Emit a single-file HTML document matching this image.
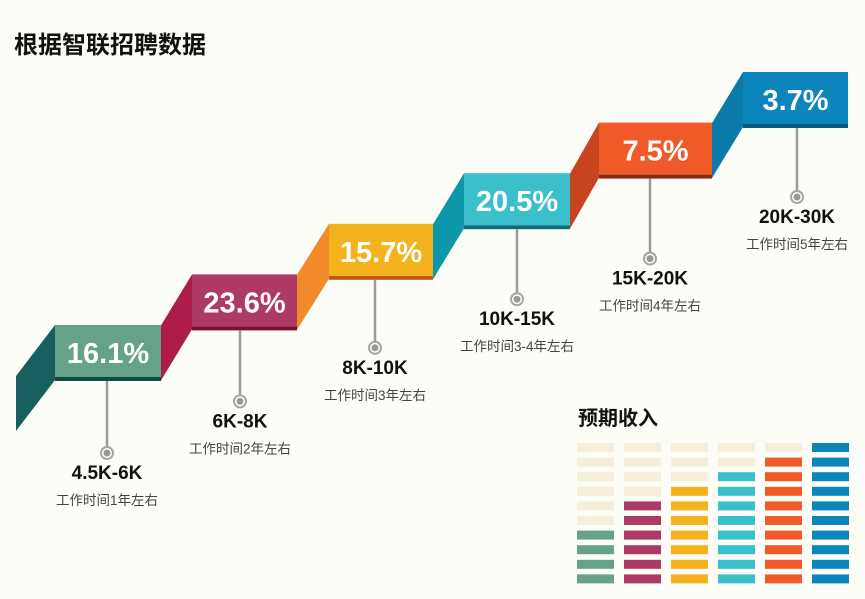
<!DOCTYPE html>
<html><head><meta charset="utf-8"><style>
body{margin:0;background:#fdfdf8;}
svg{display:block;font-family:"Liberation Sans","Noto Sans CJK SC",sans-serif;}
</style></head><body>
<svg id="c" width="865" height="599" viewBox="0 0 865 599">
<text x="14" y="53" font-size="24" font-weight="bold" fill="#111">根据智联招聘数据</text>
<text x="578" y="425" font-size="20" font-weight="bold" fill="#111">预期收入</text>
</svg>
<script>
const categories=["4.5K-6K","6K-8K","8K-10K","10K-15K","15K-20K","20K-30K"];
const shares=[16.1,23.6,15.7,20.5,7.5,3.7];
const years=["1","2","3","3-4","4","5"];
const filledBars=[4,6,7,8,9,10];
const totalBars=10;
const front=["#64a38a","#ad3a64","#f4b31d","#3bbfcb","#f05a28","#0b85bb"];
const side=["#17605f","#ae1c4c","#f18a2b","#0d97a8","#c7441e","#0a7aa8"];
const shade=["#0f4a48","#7a1230","#c4560e","#0a6f7c","#8a2a12","#0a5a80"];
const NS="http://www.w3.org/2000/svg";
const svg=document.getElementById('c');
function mk(t,a){const e=document.createElementNS(NS,t);for(const k in a)e.setAttribute(k,a[k]);svg.appendChild(e);return e;}
const stepX=[55,192,329,464,599,743];
const stepW=[106,105,104,106,113,105];
const pinX=[107,240,375,517,650,797];
const Y0=325,DY=-50.6,H=55;
const pinLen=[72,71,68,70,80,69];
categories.forEach((c,i)=>{
  const x=stepX[i],y=Y0+i*DY,W=stepW[i];
  const prevR=i===0?16:stepX[i-1]+stepW[i-1];
  const s=mk('polygon',{points:`${prevR},${y+51} ${x},${y} ${x},${y+H} ${prevR},${y+H+51}`,fill:side[i]});
  
  
  const sh=mk('rect',{x:x,y:y+H-3,width:W,height:4,fill:shade[i]});
  
  
  const r=mk('rect',{x:x,y:y,width:W,height:H-3,fill:front[i]});
  
  
  const t=mk('text',{x:x+W/2,y:y+38,'text-anchor':'middle','font-size':29,'font-weight':'bold',fill:'#fff'});
  t.textContent=shares[i]+'%';
  
  
  const px=pinX[i],py0=y+H+1,py=y+H+pinLen[i];
  const l=mk('line',{x1:px,y1:py0,x2:px,y2:py,stroke:'#9b9b9b','stroke-width':2.5});
  
  
  const o=mk('circle',{cx:px,cy:py+1,r:6,fill:'#fff',stroke:'#a5a5a5','stroke-width':2});
  
  
  const d=mk('circle',{cx:px,cy:py+1,r:3.5,fill:'#999'});
  
  
  const cl=mk('text',{x:px,y:py+27,'text-anchor':'middle','font-size':19,'font-weight':'bold',fill:'#111'});
  cl.textContent=c;
  
  
  const yl=mk('text',{x:px,y:py+53,'text-anchor':'middle','font-size':13.5,fill:'#444'});
  yl.textContent='工作时间'+years[i]+'年左右';
  
  
});
const GX=577,GDX=47,GY=443,GDY=14.6,BW=37,BH=9;
filledBars.forEach((n,i)=>{
  for(let k=0;k<totalBars;k++){
    const filled=k>=totalBars-n;
    const b=mk('rect',{x:GX+i*GDX,y:GY+k*GDY,width:BW,height:BH,fill:filled?front[i]:'#f4eedb'});
    
    
  }
});
</script>
</body></html>
